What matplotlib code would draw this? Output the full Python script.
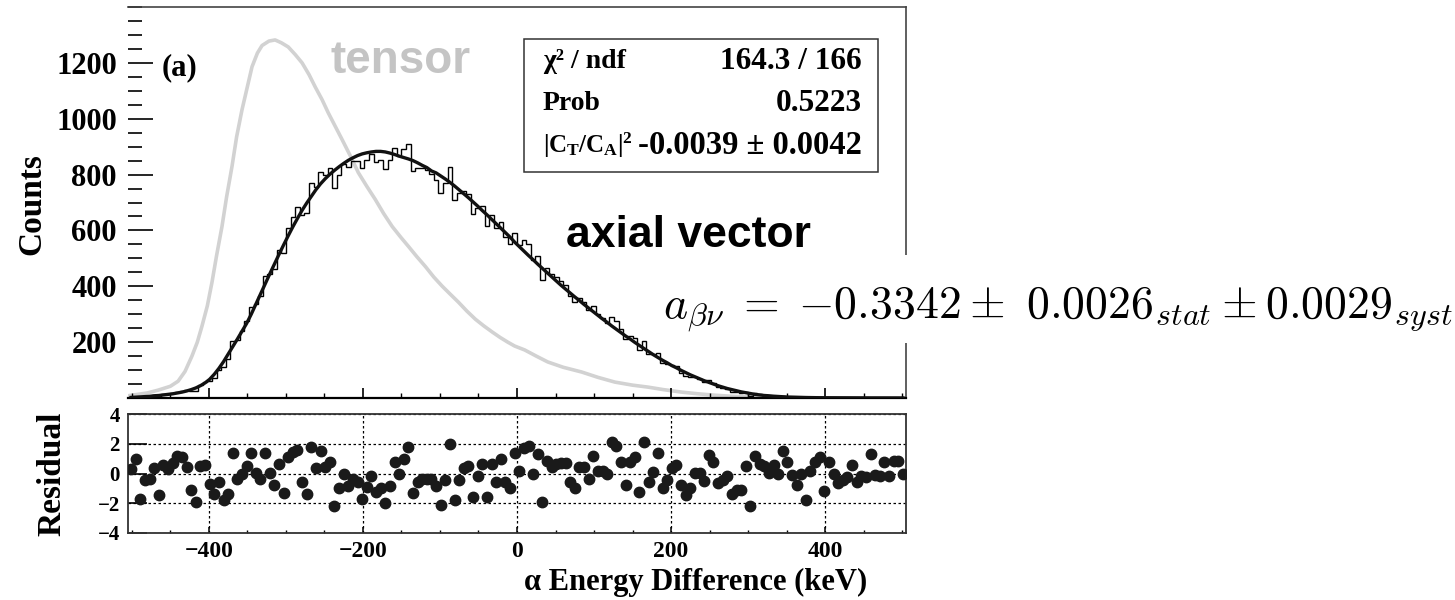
import numpy as np
import matplotlib.pyplot as plt
from matplotlib.ticker import MultipleLocator

plt.rcParams['font.family'] = ['Liberation Serif', 'DejaVu Serif']
plt.rcParams['font.weight'] = 'bold'
plt.rcParams['mathtext.fontset'] = 'custom'
plt.rcParams['mathtext.rm'] = 'Liberation Serif:bold'
plt.rcParams['mathtext.it'] = 'Liberation Serif:bold'
plt.rcParams['mathtext.bf'] = 'Liberation Serif:bold'
plt.rcParams['mathtext.default'] = 'it'

# 168 bins, 6 keV wide
bin_lo = -504
bin_w = 6
n_bins = 168

# fitted axial-vector spectrum at bin centres (-501 ... 501)
fit = np.array([
    2, 3, 4, 5, 6, 8, 9, 11, 13, 15,
    18, 21, 25, 30, 36, 44, 54, 67, 85, 106,
    130, 157, 184, 211, 239, 267, 300, 336, 372, 408,
    444, 479, 514, 548, 581, 613, 643, 672, 698, 722,
    746, 767, 785, 801, 815, 828, 840, 851, 860, 868,
    874, 878, 881, 883, 883, 881, 877, 872, 866, 861,
    856, 850, 842, 833, 825, 813, 806, 795, 784, 772,
    759, 745, 731, 717, 702, 687, 671, 656, 640, 624,
    608, 592, 576, 558, 542, 526, 510, 495, 479, 464,
    449, 434, 419, 404, 390, 376, 362, 349, 335, 322,
    309, 296, 283, 271, 258, 246, 234, 222, 211, 199,
    188, 177, 166, 155, 145, 135, 126, 116, 108, 99,
    91, 83, 76, 69, 62, 56, 50, 44, 39, 34,
    30, 26, 22, 19, 16, 13, 11, 9, 8, 6.5,
    5.5, 4.5, 3.5, 3, 2.5, 2, 1.7, 1.4, 1.2, 1,
    0.9, 0.8, 0.7, 0.6, 0.5, 0.45, 0.4, 0.35, 0.3, 0.28,
    0.25, 0.22, 0.2, 0.18, 0.16, 0.14, 0.12, 0.1,
])

# (data - fit) / sigma per bin
resid = np.array([
    0.3, 1.0, -1.7, -0.45, -0.35, 0.35, -1.45, 0.6, 0.3, 0.7,
    1.2, 1.1, 0.45, -1.1, -1.9, 0.5, 0.6, -0.7, -1.35, -0.6,
    -1.8, -1.4, 1.35, -0.35, -0.05, 0.5, 1.4, 0.05, -0.35, 1.35,
    0.05, -0.8, 0.65, -1.3, 1.1, 1.45, 1.55, -0.6, -1.4, 1.8,
    0.35, 1.5, 0.45, 0.75, -2.2, -1.0, -0.05, -0.85, -0.35, -0.6,
    -1.7, -0.9, -0.2, -1.25, -1.0, -2.0, -0.85, 0.75, 0.0, 1.0,
    1.8, -1.3, -0.6, -0.35, -0.35, -0.35, -0.85, -2.15, -0.45, 2.0,
    -1.8, -0.45, 0.4, 0.5, -1.6, -0.2, 0.65, -1.55, 0.65, -0.55,
    0.95, -0.6, -1.0,
    1.35, 0.2, 1.7, 1.85, -0.05, 1.3, -1.9, 0.85, 0.45, 0.65,
    0.7, 0.7, -0.55, -0.95, 0.45, 0.45, -0.35, 1.15, 0.2, 0.15,
    -0.05, 2.1, 1.85, 0.75, -0.75, 0.75, 1.1, -1.25, 2.1, -0.55,
    0.1, 1.35, -0.95, -0.45, 0.35, 0.6, -0.8, -1.45, -0.95, 0.05,
    0.05, -0.5, 1.25, 0.75, -0.65, -0.45, -0.2, -1.4, -1.1, -1.1,
    0.5, -2.2, 1.2, 0.65, 0.5, 0.05, 0.55, -0.05, 1.5, 0.75,
    -0.1, -0.75, -0.05, -1.75, 0.2, 0.75, 1.1, -1.15, 0.75, 0.0,
    -0.65, -0.45, -0.25, 0.55, -0.55, -0.2, -0.25, 1.3, -0.1, -0.2,
    0.75, -0.2, 0.85, 0.85, -0.05,
])

# tensor-only spectrum (grey reference curve)
tens_x = [-505, -480, -466, -450, -440, -431, -422, -415, -409, -402,
          -396, -390, -383, -377, -370, -364, -357, -350, -344, -337,
          -331, -322, -314, -306, -297, -288, -279, -270, -262, -253,
          -245, -236, -227, -216, -206, -195, -184, -173, -162, -151,
          -141, -130, -119, -108, -97, -86, -76, -65, -54, -43,
          -32, -22, -12, -3, 10, 25, 40, 60, 84, 105,
          127, 150, 170, 190, 214, 235, 257, 280, 300, 330,
          370, 420, 505]
tens_y = [8, 18, 28, 42, 60, 95, 150, 200, 257, 330,
          414, 510, 614, 720, 829, 935, 1032, 1115, 1186, 1235,
          1262, 1278, 1282, 1272, 1257, 1230, 1200, 1158, 1114, 1068,
          1021, 973, 925, 865, 807, 758, 711, 660, 614, 576,
          543, 506, 471, 433, 400, 370, 343, 311, 282, 258,
          236, 217, 200, 186, 172, 150, 129, 110, 93, 74,
          57, 46, 39, 30, 21, 15, 10, 6, 4, 2,
          1, 0.5, 0.2]

edges = bin_lo + bin_w * np.arange(n_bins + 1)
centers = edges[:-1] + bin_w / 2
counts = np.clip(fit + resid * np.sqrt(fit), 0, None)

fig = plt.figure(figsize=(14.55, 6), dpi=100)
ax = fig.add_axes([128/1455, 202/600, 778/1455, 391/600])
ax2 = fig.add_axes([128/1455, 67/600, 778/1455, 119/600])

# --- spectrum panel ---
ax.plot(tens_x, tens_y, color='#d2d2d2', lw=2.6, zorder=1)
ax.stairs(counts, edges, color='black', lw=1.0, zorder=2)
ax.plot(centers, fit, color='#111111', lw=2.4, zorder=3)

ax.set_xlim(-505, 505)
ax.set_ylim(0, 1400)
ax.spines['left'].set_visible(False)
for s in ['top', 'right']:
    ax.spines[s].set_color('#444444')
    ax.spines[s].set_linewidth(1.2)
ax.spines['bottom'].set_linewidth(1.6)

ax.set_yticks([200, 400, 600, 800, 1000, 1200])
ax.yaxis.set_minor_locator(MultipleLocator(50))
ax.set_xticks([-400, -200, 0, 200, 400])
ax.xaxis.set_minor_locator(MultipleLocator(50))
ax.tick_params(axis='y', which='major', direction='in', length=18, width=1.2,
               pad=8, labelsize=22)
ax.tick_params(axis='y', which='minor', direction='in', length=10, width=1.2)
ax.tick_params(axis='x', which='major', direction='in', length=7, width=1.2,
               labelbottom=False)
ax.tick_params(axis='x', which='minor', direction='in', length=3.3, width=1.0)

ax.text(-461, 1182, '(a)', fontsize=22, fontweight='bold', va='center', ha='left')
ax.text(-151, 1164, 'tensor', fontsize=33, fontweight='bold', color='#c4c4c4',
        family='Liberation Sans', ha='center', va='baseline')
ax.text(222, 539, 'axial vector', fontsize=32, fontweight='bold', color='black',
        family='Liberation Sans', ha='center', va='baseline')

# fit statistics box
ax.add_patch(plt.Rectangle((0.509, 0.578), 0.455, 0.340, transform=ax.transAxes,
                           fill=False, edgecolor='#333333', lw=1.1, zorder=5))
stat_rows = [('χ² / ndf', '164.3 / 166', 20, 22.5),
             ('Prob', '0.5223', 20, 22.5),
             (r'$|C_T/C_A|^2$', '-0.0039 ± 0.0042', 18, 23.5)]
row_y = [0.860, 0.752, 0.645]
for (name, val, fs_name, fs_val), yy in zip(stat_rows, row_y):
    ax.text(0.533, yy, name, transform=ax.transAxes, fontsize=fs_name,
            fontweight='bold', ha='left', va='center')
    ax.text(0.943, yy, val, transform=ax.transAxes, fontsize=fs_val,
            fontweight='bold', ha='right', va='center')

# --- residual panel ---
ax2.plot(centers, resid, 'o', color='#1a1a1a', ms=7.5, zorder=3)
ax2.set_xlim(-505, 505)
ax2.set_ylim(-4, 4)
ax2.set_yticks([-4, -2, 0, 2, 4])
ax2.set_xticks([-400, -200, 0, 200, 400])
ax2.xaxis.set_minor_locator(MultipleLocator(50))
ax2.grid(True, which='major', ls=(0, (2, 2)), color='black', lw=0.9)
for s in ax2.spines.values():
    s.set_linewidth(1.3)
    s.set_color('#333333')
ax2.tick_params(axis='y', which='major', direction='in', length=14, width=1.2,
                pad=6, labelsize=15)
ax2.tick_params(axis='x', which='major', direction='in', length=4.5, width=1.1,
                pad=6, labelsize=17)
ax2.tick_params(axis='x', which='minor', direction='in', length=2.3, width=1.0)

fig.text(32/1455, 1 - 204/600, 'Counts', rotation=90, fontsize=24,
         fontweight='bold', ha='center', va='center')
fig.text(52/1455, 1 - 474/600, 'Residual', rotation=90, fontsize=24,
         fontweight='bold', ha='center', va='center')
fig.text(867/1455, 1 - 582/600, 'α Energy Difference (keV)', fontsize=22,
         fontweight='bold', ha='right', va='center')

# measured correlation coefficient, on a white patch over the frame
fig.patches.append(plt.Rectangle((660/1455, 1 - 343/600), 795/1455, 88/600,
                                 transform=fig.transFigure, facecolor='white',
                                 edgecolor='none', zorder=2))
fig.text(1453/1455, 1 - 318/600,
         r'$a_{\beta\nu}\;=\;{-}0.3342 \pm\ 0.0026_{stat} \pm 0.0029_{syst}$',
         math_fontfamily='cm', fontsize=33, ha='right', va='baseline', zorder=3)

fig.savefig('out.png', dpi=100)
